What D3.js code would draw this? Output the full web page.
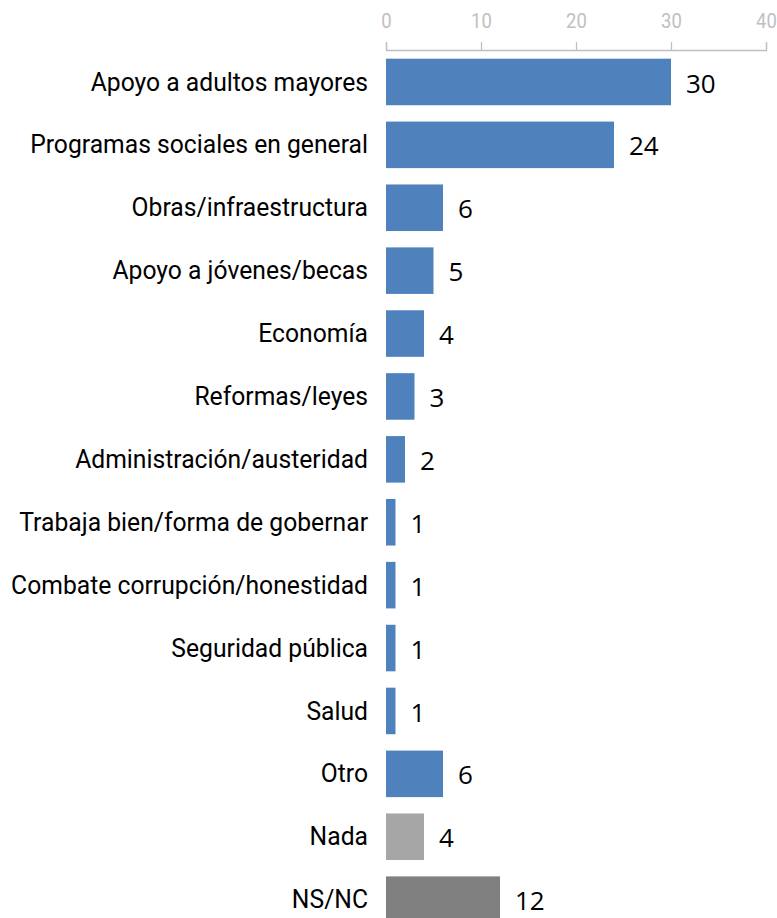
<!DOCTYPE html>
<html><head><meta charset="utf-8">
<script src="https://cdn.jsdelivr.net/npm/d3@7"></script>
<style>body{margin:0;background:#fff}</style>
</head><body>
<svg id="c" width="777" height="918"></svg>
<script>
const categories = ["Apoyo a adultos mayores","Programas sociales en general","Obras/infraestructura","Apoyo a jóvenes/becas","Economía","Reformas/leyes","Administración/austeridad","Trabaja bien/forma de gobernar","Combate corrupción/honestidad","Seguridad pública","Salud","Otro","Nada","NS/NC"];
const values = [30,24,6,5,4,3,2,1,1,1,1,6,4,12];
const colors = ["#4f81bd","#4f81bd","#4f81bd","#4f81bd","#4f81bd","#4f81bd","#4f81bd","#4f81bd","#4f81bd","#4f81bd","#4f81bd","#4f81bd","#a6a6a6","#808080"];
const tickValues = [0,10,20,30,40];

const svg = d3.select("#c");
const x = d3.scaleLinear().domain([0,40]).range([386,766]);
const y = d3.scaleBand().domain(categories).range([50.5, 50.5+62.9*14]).paddingInner(0.26).paddingOuter(0.13);

// axis
const ax = svg.append("g").attr("transform","translate(0,50)")
  .call(d3.axisTop(x).tickValues(tickValues).tickSize(8).tickPadding(14));
ax.select(".domain").attr("stroke","#bfbfbf").attr("stroke-width",1.3);
ax.selectAll(".tick line").attr("stroke","#bfbfbf").attr("stroke-width",1.3);
ax.selectAll(".tick text").attr("fill","#c0c0c0").attr("font-family","Roboto").attr("font-size",21)
  .attr("style","transform:scaleX(0.88)");

// bars
svg.append("g").selectAll("rect").data(values).join("rect")
  .attr("x",x(0)).attr("y",(d,i)=>y(categories[i]))
  .attr("width",d=>x(d)-x(0)).attr("height",y.bandwidth())
  .attr("fill",(d,i)=>colors[i]);

// value labels
svg.append("g").selectAll("text").data(values).join("text")
  .attr("x",d=>x(d)+15).attr("y",(d,i)=>y(categories[i])+y.bandwidth()/2+1.5)
  .attr("dy","0.35em").attr("font-family","Open Sans").attr("font-size",26).attr("fill","#000")
  .text(d=>d);

// category labels
svg.append("g").selectAll("text").data(categories).join("text")
  .attr("transform",d=>`translate(368,${y(d)+y.bandwidth()/2}) scale(0.95,1)`)
  .attr("text-anchor","end").attr("dy","0.33em")
  .attr("font-family","Roboto").attr("font-size",26).attr("fill","#000")
  .text(d=>d);
</script>
</body></html>
